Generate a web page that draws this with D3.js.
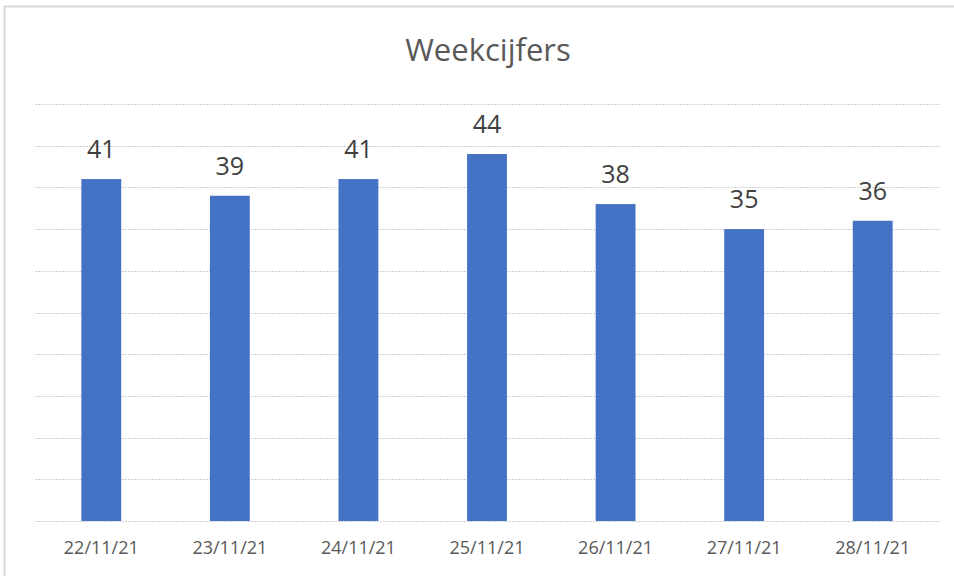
<!DOCTYPE html>
<html>
<head>
<meta charset="utf-8">
<script src="https://cdn.jsdelivr.net/npm/d3@7"></script>
<style>
  body { margin: 0; background: #fff; }
  svg { display: block; font-family: "Open Sans", "Noto Sans", sans-serif; }
</style>
</head>
<body>
<svg id="chart" width="954" height="576"></svg>
<script>
// data
const dates = ["22/11/21", "23/11/21", "24/11/21", "25/11/21", "26/11/21", "27/11/21", "28/11/21"];
const values = [41, 39, 41, 44, 38, 35, 36];
const gridTicks = [0, 5, 10, 15, 20, 25, 30, 35, 40, 45, 50];

const width = 954, height = 576;
const margin = { top: 104, right: 17, bottom: 55, left: 37 };

const svg = d3.select("#chart");

// outer frame of the chart area
svg.append("rect")
  .attr("x", 4.5).attr("y", 6.5)
  .attr("width", width + 10).attr("height", height + 10)
  .attr("fill", "none")
  .attr("stroke", "#d9d9d9")
  .attr("stroke-width", 2);

const x = d3.scaleBand()
  .domain(dates)
  .range([margin.left, width - margin.right])
  .paddingInner(0.69)
  .paddingOuter(0.345);

const y = d3.scaleLinear()
  .domain([0, 50])
  .range([height - margin.bottom, margin.top]);

// gridlines
svg.append("g")
  .attr("class", "grid")
  .selectAll("line")
  .data(gridTicks)
  .join("line")
  .attr("x1", 35)
  .attr("x2", 940)
  .attr("y1", d => Math.round(y(d)) + 0.5)
  .attr("y2", d => Math.round(y(d)) + 0.5)
  .attr("stroke", "#d0d0d0")
  .attr("stroke-width", 1)
  .attr("stroke-dasharray", "2,1");

// bars
svg.append("g")
  .selectAll("rect")
  .data(values)
  .join("rect")
  .attr("x", (d, i) => x(dates[i]))
  .attr("y", d => y(d))
  .attr("width", x.bandwidth())
  .attr("height", d => y(0) - y(d))
  .attr("fill", "#4472c4");

// value labels
svg.append("g")
  .selectAll("text")
  .data(values)
  .join("text")
  .attr("x", (d, i) => x(dates[i]) + x.bandwidth() / 2)
  .attr("y", d => y(d) - 21)
  .attr("text-anchor", "middle")
  .attr("fill", "#404040")
  .attr("font-size", 25)
  .text(d => d);

// x axis labels
const xAxis = svg.append("g")
  .attr("transform", `translate(0, ${y(0)})`)
  .call(d3.axisBottom(x).tickSize(0).tickPadding(20));
xAxis.select(".domain").remove();
xAxis.selectAll("text")
  .attr("font-size", 18)
  .attr("font-family", "Open Sans, Noto Sans, sans-serif")
  .attr("fill", "#595959");

// title
svg.append("text")
  .attr("x", 488)
  .attr("y", 61)
  .attr("text-anchor", "middle")
  .attr("fill", "#595959")
  .attr("font-size", 31)
  .text("Weekcijfers");
</script>
</body>
</html>
